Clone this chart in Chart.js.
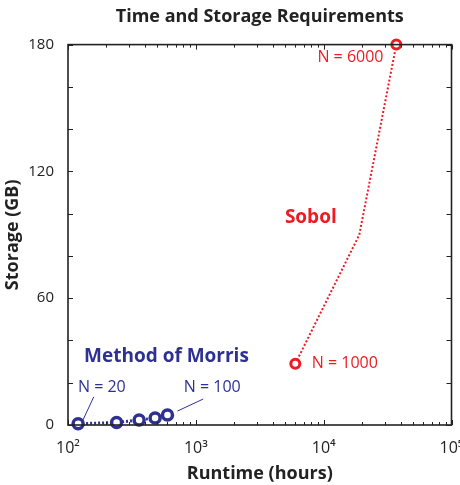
<!DOCTYPE html>
<html>
<head>
<meta charset="utf-8">
<script src="https://cdn.jsdelivr.net/npm/chart.js@4.4.1/dist/chart.umd.min.js"></script>
<style>
  html, body { margin: 0; padding: 0; background: #fff; }
  #wrap { width: 460px; height: 485px; }
</style>
</head>
<body>
<div id="wrap"><canvas id="chart"></canvas></div>
<script>
// ── Data ─────────────────────────────────────────────
const morrisRuntime = [120, 240, 360, 480, 600];
const morrisStorage = [0.6, 1.2, 2.4, 3.3, 4.7];
const sobolRuntime  = [6000, 19000, 37000];
const sobolStorage  = [29, 90, 180];
const sobolMarked   = [true, false, true];

const xDecades   = [100, 1000, 10000, 100000];
const xTickText  = ['10\u00b2', '10\u00b3', '10\u2074', '10\u2075'];
const yLabelled  = [0, 60, 120, 180];

const BLUE = '#2e3192';
const RED  = '#ed1c24';
const FONT = '"Open Sans", "Noto Sans", sans-serif';

// text notes, anchored in data coordinates
const notes = [
  { text: 'N = 6000',         x: 16200, y: 173.8, color: RED,  bold: false, size: 16, align: 'center' },
  { text: 'Sobol',            x: 7930,  y: 98,    color: RED,  bold: true,  size: 19, align: 'center' },
  { text: 'N = 1000',         x: 8070,  y: 29,    color: RED,  bold: false, size: 16, align: 'left' },
  { text: 'Method of Morris', x: 589,   y: 32.5,  color: BLUE, bold: true,  size: 19, align: 'center' },
  { text: 'N = 20',           x: 184,   y: 18,    color: BLUE, bold: false, size: 16, align: 'center' },
  { text: 'N = 100',          x: 1343,  y: 18,    color: BLUE, bold: false, size: 16, align: 'center' },
];
const leaders = [
  { from: [159, 13.3], to: [131, 2.4] },
  { from: [1143, 12.3], to: [718, 6.6] },
];

// box + inward ticks + notes
const framePlugin = {
  id: 'frame',
  afterDatasetsDraw(chart) {
    const { ctx, chartArea: a, scales: { x, y } } = chart;
    ctx.save();
    ctx.strokeStyle = '#222';
    ctx.lineWidth = 1;
    ctx.beginPath();
    // y ticks every 20
    for (let v = 0; v <= 180; v += 20) {
      const py = Math.round(y.getPixelForValue(v)) + 0.5;
      ctx.moveTo(a.left, py); ctx.lineTo(a.left + 5, py);
      ctx.moveTo(a.right, py); ctx.lineTo(a.right - 5, py);
    }
    // x ticks, major and minor
    for (let d = 0; d < xDecades.length; d++) {
      const base = xDecades[d];
      for (let m = 1; m <= 9; m++) {
        if (d === xDecades.length - 1 && m > 1) break;
        const px = Math.round(x.getPixelForValue(base * m)) + 0.5;
        const len = m === 1 ? 5 : 3;
        ctx.moveTo(px, a.bottom); ctx.lineTo(px, a.bottom - len);
        ctx.moveTo(px, a.top); ctx.lineTo(px, a.top + len);
      }
    }
    ctx.stroke();
    ctx.lineWidth = 1.6;
    ctx.strokeRect(a.left, a.top, a.right - a.left, a.bottom - a.top);

    // leader lines
    ctx.strokeStyle = BLUE;
    ctx.lineWidth = 1;
    ctx.beginPath();
    for (const l of leaders) {
      ctx.moveTo(x.getPixelForValue(l.from[0]), y.getPixelForValue(l.from[1]));
      ctx.lineTo(x.getPixelForValue(l.to[0]), y.getPixelForValue(l.to[1]));
    }
    ctx.stroke();

    ctx.textBaseline = 'middle';
    for (const n of notes) {
      ctx.fillStyle = n.color;
      ctx.textAlign = n.align;
      ctx.font = `${n.bold ? 'bold ' : ''}${n.size}px ${FONT}`;
      ctx.fillText(n.text, x.getPixelForValue(n.x), y.getPixelForValue(n.y));
    }
    ctx.restore();
  },
};

new Chart(document.getElementById('chart'), {
  type: 'line',
  data: {
    datasets: [
      {
        label: 'Sobol',
        data: sobolRuntime.map((r, i) => ({ x: r, y: sobolStorage[i] })),
        borderColor: RED,
        borderWidth: 2,
        borderDash: [2, 2],
        pointRadius: sobolMarked.map(m => (m ? 4.5 : 0)),
        pointBorderWidth: 3,
        pointBorderColor: RED,
        pointBackgroundColor: '#fff',
        tension: 0,
        clip: false,
      },
      {
        label: 'Method of Morris',
        data: morrisRuntime.map((r, i) => ({ x: r, y: morrisStorage[i] })),
        borderColor: BLUE,
        borderWidth: 3,
        borderDash: [2, 2],
        pointRadius: 5,
        pointBorderWidth: 3.5,
        pointBorderColor: BLUE,
        pointBackgroundColor: '#fff',
        tension: 0,
        clip: false,
      },
    ],
  },
  options: {
    responsive: true,
    maintainAspectRatio: false,
    animation: false,
    layout: { padding: { left: 0, right: 7, top: 0, bottom: 0 } },
    plugins: {
      legend: { display: false },
      tooltip: { enabled: false },
      title: {
        display: true,
        fullSize: false,
        text: 'Time and Storage Requirements',
        color: '#222',
        font: { family: FONT, size: 18, weight: 'bold' },
        padding: { top: 6, bottom: 17 },
      },
    },
    scales: {
      x: {
        type: 'logarithmic',
        min: 100,
        max: 100000,
        grid: { display: false },
        border: { display: false },
        afterBuildTicks: s => { s.ticks = xDecades.map(v => ({ value: v })); },
        afterFit: s => { s.height = 60; s.paddingLeft = 0; s.paddingRight = 0; },
        ticks: {
          color: '#222',
          padding: 6,
          maxRotation: 0,
          autoSkip: false,
          font: { family: FONT, size: 16 },
          callback: v => xTickText[xDecades.indexOf(v)] ?? '',
        },
        title: {
          display: true,
          text: 'Runtime (hours)',
          color: '#222',
          font: { family: FONT, size: 18, weight: 'bold' },
          padding: { top: 0, bottom: 0 },
        },
      },
      y: {
        min: 0,
        max: 180,
        grid: { display: false },
        border: { display: false },
        afterBuildTicks: s => { s.ticks = yLabelled.map(v => ({ value: v })); },
        afterFit: s => { s.width = 68; s.paddingTop = 0; s.paddingBottom = 0; },
        ticks: {
          color: '#222',
          padding: 6,
          autoSkip: false,
          font: { family: FONT, size: 15 },
        },
        title: {
          display: true,
          text: 'Storage (GB)',
          color: '#222',
          font: { family: FONT, size: 18, weight: 'bold' },
          padding: { top: 2, bottom: 0 },
        },
      },
    },
  },
  plugins: [framePlugin],
});
</script>
</body>
</html>
